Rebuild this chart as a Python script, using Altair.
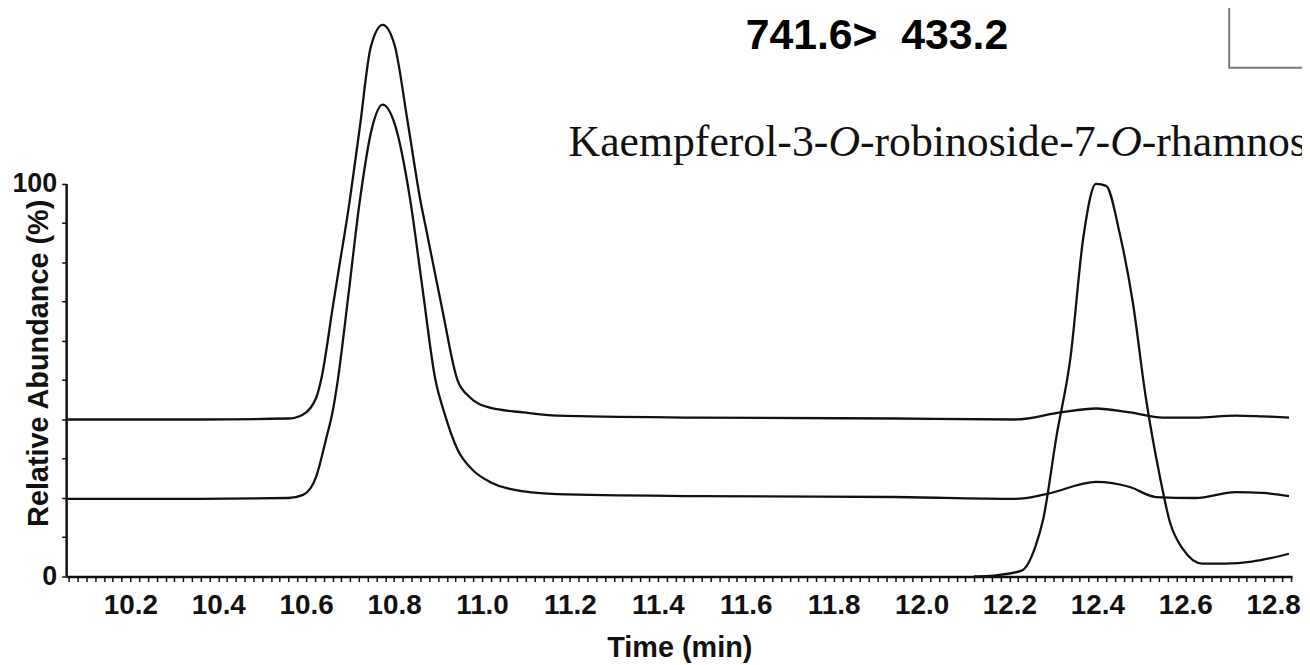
import altair as alt
import pandas as pd

# ---- data ----
time_a = [10.057, 10.356, 10.559, 10.593, 10.623, 10.634, 10.661, 10.672, 10.699, 10.722,
          10.747, 10.774, 10.801, 10.831, 10.860, 10.876, 10.910, 10.944, 10.973, 11.018,
          11.095, 11.170, 11.486, 11.938, 12.214, 12.316, 12.397, 12.474, 12.549, 12.623,
          12.714, 12.775, 12.836]
val_a = [40.0, 40.0, 40.25, 41.3, 45.6, 50.1, 69.0, 76.7, 95.7, 114.4,
         134.9, 140.5, 135.4, 115.7, 95.7, 86.8, 67.8, 50.1, 45.6, 43.0,
         41.8, 41.0, 40.5, 40.25, 40.0, 41.8, 42.8, 41.8, 40.5, 40.5,
         41.0, 40.8, 40.5]

time_b = [10.057, 10.356, 10.559, 10.593, 10.623, 10.645, 10.661, 10.672, 10.695, 10.722,
          10.749, 10.774, 10.801, 10.837, 10.864, 10.894, 10.914, 10.944, 10.982, 11.018,
          11.063, 11.170, 11.486, 11.938, 12.214, 12.284, 12.397, 12.474, 12.533, 12.623,
          12.714, 12.775, 12.836]
val_b = [19.8, 19.8, 20.0, 20.8, 25.5, 34.9, 42.5, 50.1, 70.7, 95.7,
         113.9, 120.2, 115.4, 95.7, 73.9, 50.1, 41.8, 32.4, 26.8, 24.1,
         22.3, 21.0, 20.5, 20.25, 19.8, 21.0, 24.1, 22.8, 20.25, 20.0,
         21.5, 21.3, 20.5]

time_c = [12.119, 12.164, 12.228, 12.259, 12.277, 12.307, 12.339, 12.368, 12.397, 12.420,
          12.451, 12.481, 12.510, 12.542, 12.565, 12.594, 12.639, 12.691, 12.752, 12.791,
          12.836]
val_c = [0.0, 0.25, 1.5, 7.6, 14.7, 35.7, 55.9, 86.3, 100.0, 99.5,
         87.3, 69.6, 45.8, 25.6, 13.9, 7.1, 3.3, 3.3, 3.8, 4.6,
         5.8]

x_min, x_max = 10.055, 12.843
y_min, y_max = 0, 144.3
y_axis_top = 100

x_tick_values = [round(10.06 + 0.02 * i, 2) for i in range(140)]
y_tick_values = [0, 10, 20, 30, 40, 50, 60, 70, 80, 90, 100]

mrm_label = "741.6>\u00a0\u00a0433.2"
# compound name pieces: plain, italic, plain, italic, plain
name_parts = ["Kaempferol-3-", "O", "-robinoside-7-", "O", "-rhamnoside"]
name_italic = [False, True, False, True, False]
name_em = [5.942, 0.722, 5.721, 0.722, 0.0]   # advance widths (em) of each piece

# ---- tables ----
traces = pd.concat([
    pd.DataFrame({"t": time_a, "v": val_a, "s": "a"}),
    pd.DataFrame({"t": time_b, "v": val_b, "s": "b"}),
    pd.DataFrame({"t": time_c, "v": val_c, "s": "c"}),
])

xs = alt.Scale(domain=[x_min, x_max], nice=False, zero=False)
ys = alt.Scale(domain=[y_min, y_max], nice=False)

FONT = "Liberation Sans"
SERIF = "Liberation Serif"
NAME_SIZE = 44
name_t, name_v = 11.197, 107.0

lines = alt.Chart(traces).mark_line(
    color="#111111", strokeWidth=2.3, interpolate="monotone", strokeJoin="round"
).encode(
    x=alt.X("t:Q", scale=xs, axis=alt.Axis(
        title="Time (min)", values=x_tick_values, tickCount=400,
        labelExpr="abs(datum.value*5 - round(datum.value*5)) < 0.001 ? format(datum.value, '.1f') : ''",
        labelOverlap=False, labelFont=FONT, labelFontWeight="bold", labelFontSize=28,
        labelColor="#111111", labelPadding=10, labelFlush=False,
        tickSize=5, tickWidth=1.5, tickColor="#111111",
        domainColor="#111111", domainWidth=2.5, grid=False,
        titleFont=FONT, titleFontWeight="bold", titleFontSize=29, titleColor="#111111",
        titleBaseline="alphabetic", titleY=80,
    )),
    y=alt.Y("v:Q", scale=ys, axis=alt.Axis(
        title="Relative Abundance (%)", values=y_tick_values, tickCount=50,
        labelExpr="datum.value == 0 || datum.value == 100 ? datum.label : ''",
        labelOverlap=False, labelFont=FONT, labelFontWeight="bold", labelFontSize=27,
        labelColor="#111111", labelPadding=5, labelFlush=False,
        tickSize=5, tickWidth=1.5, tickColor="#111111",
        domain=False, grid=False,
        titleFont=FONT, titleFontWeight="bold", titleFontSize=29, titleColor="#111111",
        titleAngle=270, titleBaseline="middle", titleAlign="center", titleX=-28, titleY=355,
    )),
    detail="s:N",
)

yline = alt.Chart(pd.DataFrame({"t": [x_min], "v0": [0], "v1": [y_axis_top]})).mark_rule(
    color="#111111", strokeWidth=2.5
).encode(x=alt.X("t:Q", scale=xs), y=alt.Y("v0:Q", scale=ys), y2="v1:Q")

mrm = alt.Chart(pd.DataFrame({"t": [11.60], "v": [134.4], "txt": [mrm_label]})).mark_text(
    font=FONT, fontWeight="bold", fontSize=43, align="left", baseline="alphabetic", color="#000000"
).encode(x=alt.X("t:Q", scale=xs), y=alt.Y("v:Q", scale=ys), text="txt:N")

name_layers = []
offset = 0.0
for part, ital, em in zip(name_parts, name_italic, name_em):
    name_layers.append(
        alt.Chart(pd.DataFrame({"t": [name_t], "v": [name_v], "txt": [part]})).mark_text(
            font=SERIF, fontSize=NAME_SIZE, fontStyle="italic" if ital else "normal",
            align="left", baseline="alphabetic", color="#111111", dx=offset,
        ).encode(x=alt.X("t:Q", scale=xs), y=alt.Y("v:Q", scale=ys), text="txt:N")
    )
    offset += em * NAME_SIZE

box = alt.Chart(pd.DataFrame({"t0": [12.70], "t1": [13.0], "v0": [129.6], "v1": [170]})).mark_rect(
    fill="white", stroke="#7a7a7a", strokeWidth=2
).encode(x=alt.X("t0:Q", scale=xs), x2="t1:Q", y=alt.Y("v0:Q", scale=ys), y2="v1:Q")

chart = alt.layer(lines, yline, box, mrm, *name_layers).properties(
    width=1233, height=570,
    autosize=alt.AutoSizeParams(type="none"),
    padding={"left": 59, "top": 0, "right": 10, "bottom": 87},
).configure(background="white", view=alt.ViewConfig(stroke=None))

chart.save("out.html", embed_options={"renderer": "svg", "actions": False})
